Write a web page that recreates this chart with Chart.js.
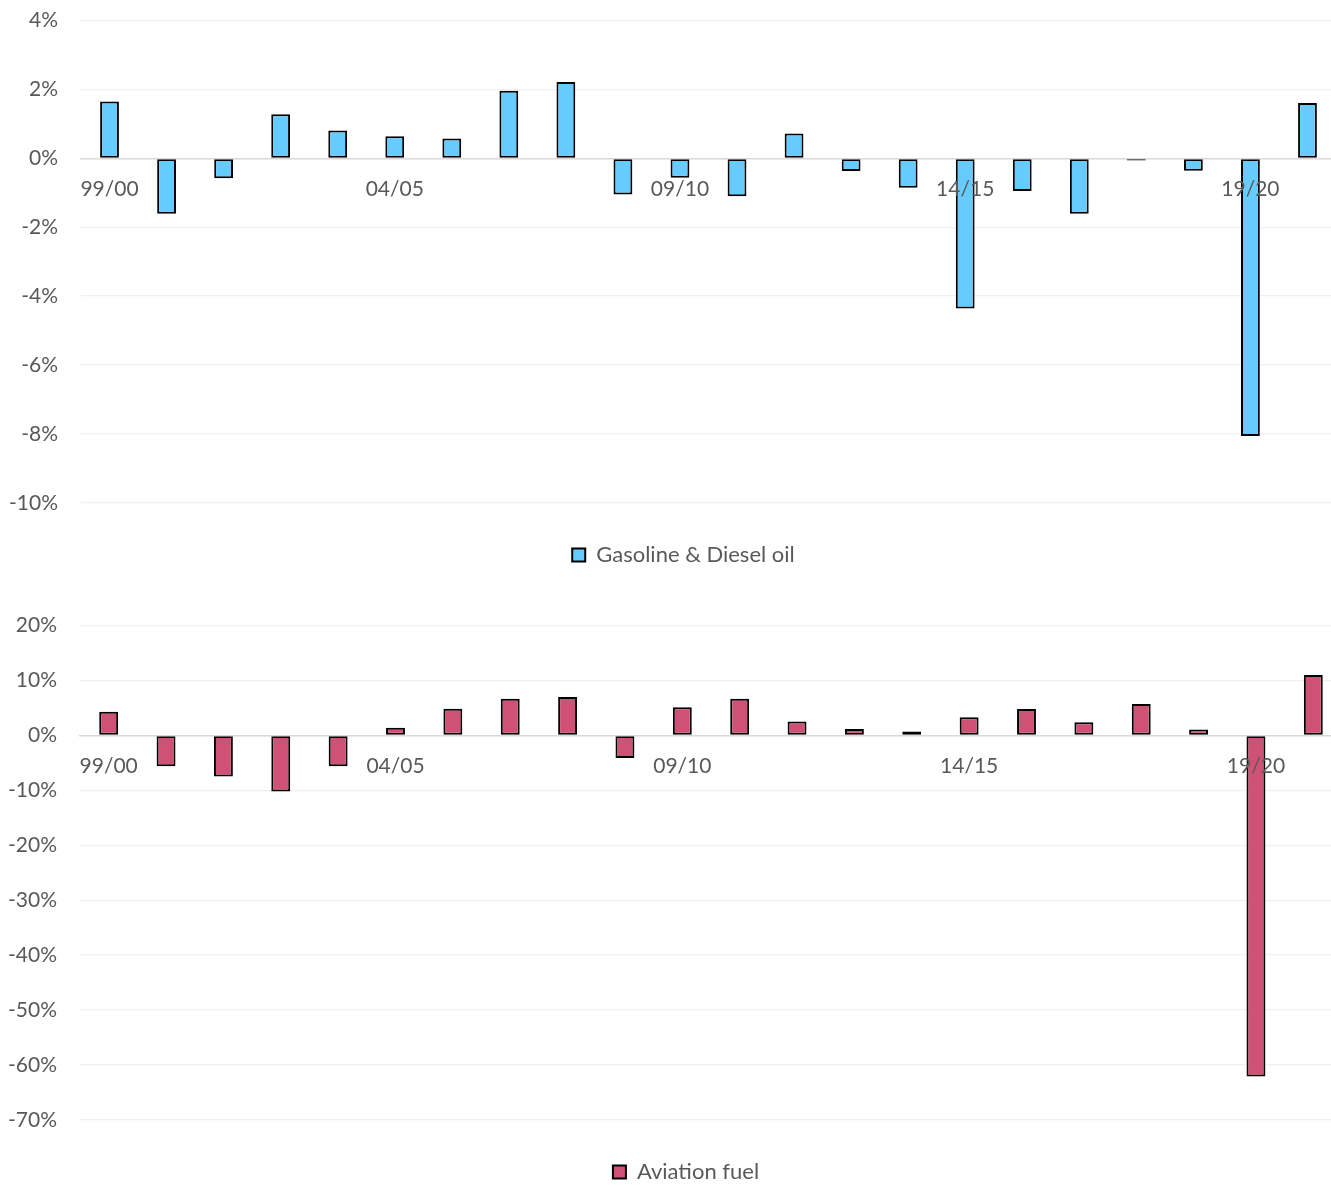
<!DOCTYPE html>
<html>
<head>
<meta charset="utf-8">
<script src="https://cdn.jsdelivr.net/npm/chart.js@4.4.0/dist/chart.umd.min.js"></script>
<style>
  html, body { margin: 0; padding: 0; background: #fff; overflow: hidden; width: 1331px; height: 1187px; }
  .panel { position: absolute; left: 0; }
  #fuel-wrap { top: -15px; width: 1367px; height: 597px; }
  #aviation-wrap { top: 590px; width: 1372px; height: 609px; }
</style>
</head>
<body>
<div class="panel" id="fuel-wrap"><canvas id="fuel-chart"></canvas></div>
<div class="panel" id="aviation-wrap"><canvas id="aviation-chart"></canvas></div>
<script>
// year-on-year change (%), fiscal years 99/00 .. 20/21
const years = ['99/00', '00/01', '01/02', '02/03', '03/04', '04/05', '05/06', '06/07', '07/08', '08/09', '09/10',
  '10/11', '11/12', '12/13', '13/14', '14/15', '15/16', '16/17', '17/18', '18/19', '19/20', '20/21'];
const shownYears = ['99/00', '04/05', '09/10', '14/15', '19/20'];

const fuelChange = [1.65, -1.61, -0.58, 1.28, 0.81, 0.64, 0.58, 1.96, 2.22, -1.05, -0.56,
  -1.10, 0.72, -0.37, -0.85, -4.36, -0.95, -1.61, -0.06, -0.36, -8.06, 1.61];
const aviationChange = [4.3, -5.6, -7.5, -10.2, -5.6, 1.4, 4.85, 6.7, 7.0, -4.1, 5.15,
  6.7, 2.55, 1.15, 0.73, 3.3, 4.8, 2.4, 5.7, 1.1, -62.1, 11.0];

const fuelAxis = { min: -10, max: 4, step: 2 };
const aviationAxis = { min: -70, max: 20, step: 10 };

const FONT = 'Lato, "Noto Sans", sans-serif';
const TEXT_COLOR = '#595959';

function makeChart(canvasId, label, values, axis, color, plotLeft, rightGap) {
  const ctx = document.getElementById(canvasId).getContext('2d');
  return new Chart(ctx, {
    type: 'bar',
    data: {
      labels: years,
      datasets: [{
        label,
        data: values,
        backgroundColor: color,
        borderColor: '#000000',
        borderWidth: 2,
        borderSkipped: false,
        barPercentage: 0.33,
        categoryPercentage: 1.0
      }]
    },
    options: {
      responsive: true,
      maintainAspectRatio: false,
      animation: false,
      layout: { padding: { top: 8, right: 0, left: 0, bottom: 6 } },
      plugins: {
        tooltip: { enabled: false },
        legend: {
          position: 'bottom',
          // blank title only opens the gap between plot and legend
          title: { display: true, text: '', font: { size: 1 }, padding: { top: 0, bottom: 30 } },
          labels: {
            color: TEXT_COLOR,
            font: { family: FONT, size: 22 },
            boxWidth: 13,
            boxHeight: 13,
            padding: 10
          }
        }
      },
      scales: {
        x: {
          position: { y: 0 },
          grid: { display: false, drawTicks: false },
          border: { display: true, color: '#d9d9d9', width: 1.5, z: 1 },
          ticks: {
            z: 1,
            autoSkip: false,
            maxRotation: 0,
            padding: 18,
            color: TEXT_COLOR,
            font: { family: FONT, size: 21 },
            callback: (v, i) => shownYears.includes(years[i]) ? years[i] : ''
          }
        },
        y: {
          min: axis.min,
          max: axis.max,
          afterFit: (scale) => { scale.width = plotLeft; },
          grid: { color: '#f0f0f0', lineWidth: 1.3, drawTicks: false },
          border: { display: false },
          ticks: {
            stepSize: axis.step,
            padding: 23,
            color: TEXT_COLOR,
            font: { family: FONT, size: 21 },
            callback: (v) => v + '%'
          }
        },
        // empty strip on the right, keeps the legend centred like the original
        gap: {
          type: 'linear',
          position: 'right',
          grid: { display: false, drawTicks: false },
          border: { display: false },
          ticks: { display: false },
          afterFit: (scale) => { scale.width = rightGap; }
        }
      }
    }
  });
}

makeChart('fuel-chart', 'Gasoline & Diesel oil', fuelChange, fuelAxis, '#66ccff', 81, 31);
makeChart('aviation-chart', 'Aviation fuel', aviationChange, aviationAxis, '#cf5276', 80, 30);
</script>
</body>
</html>
